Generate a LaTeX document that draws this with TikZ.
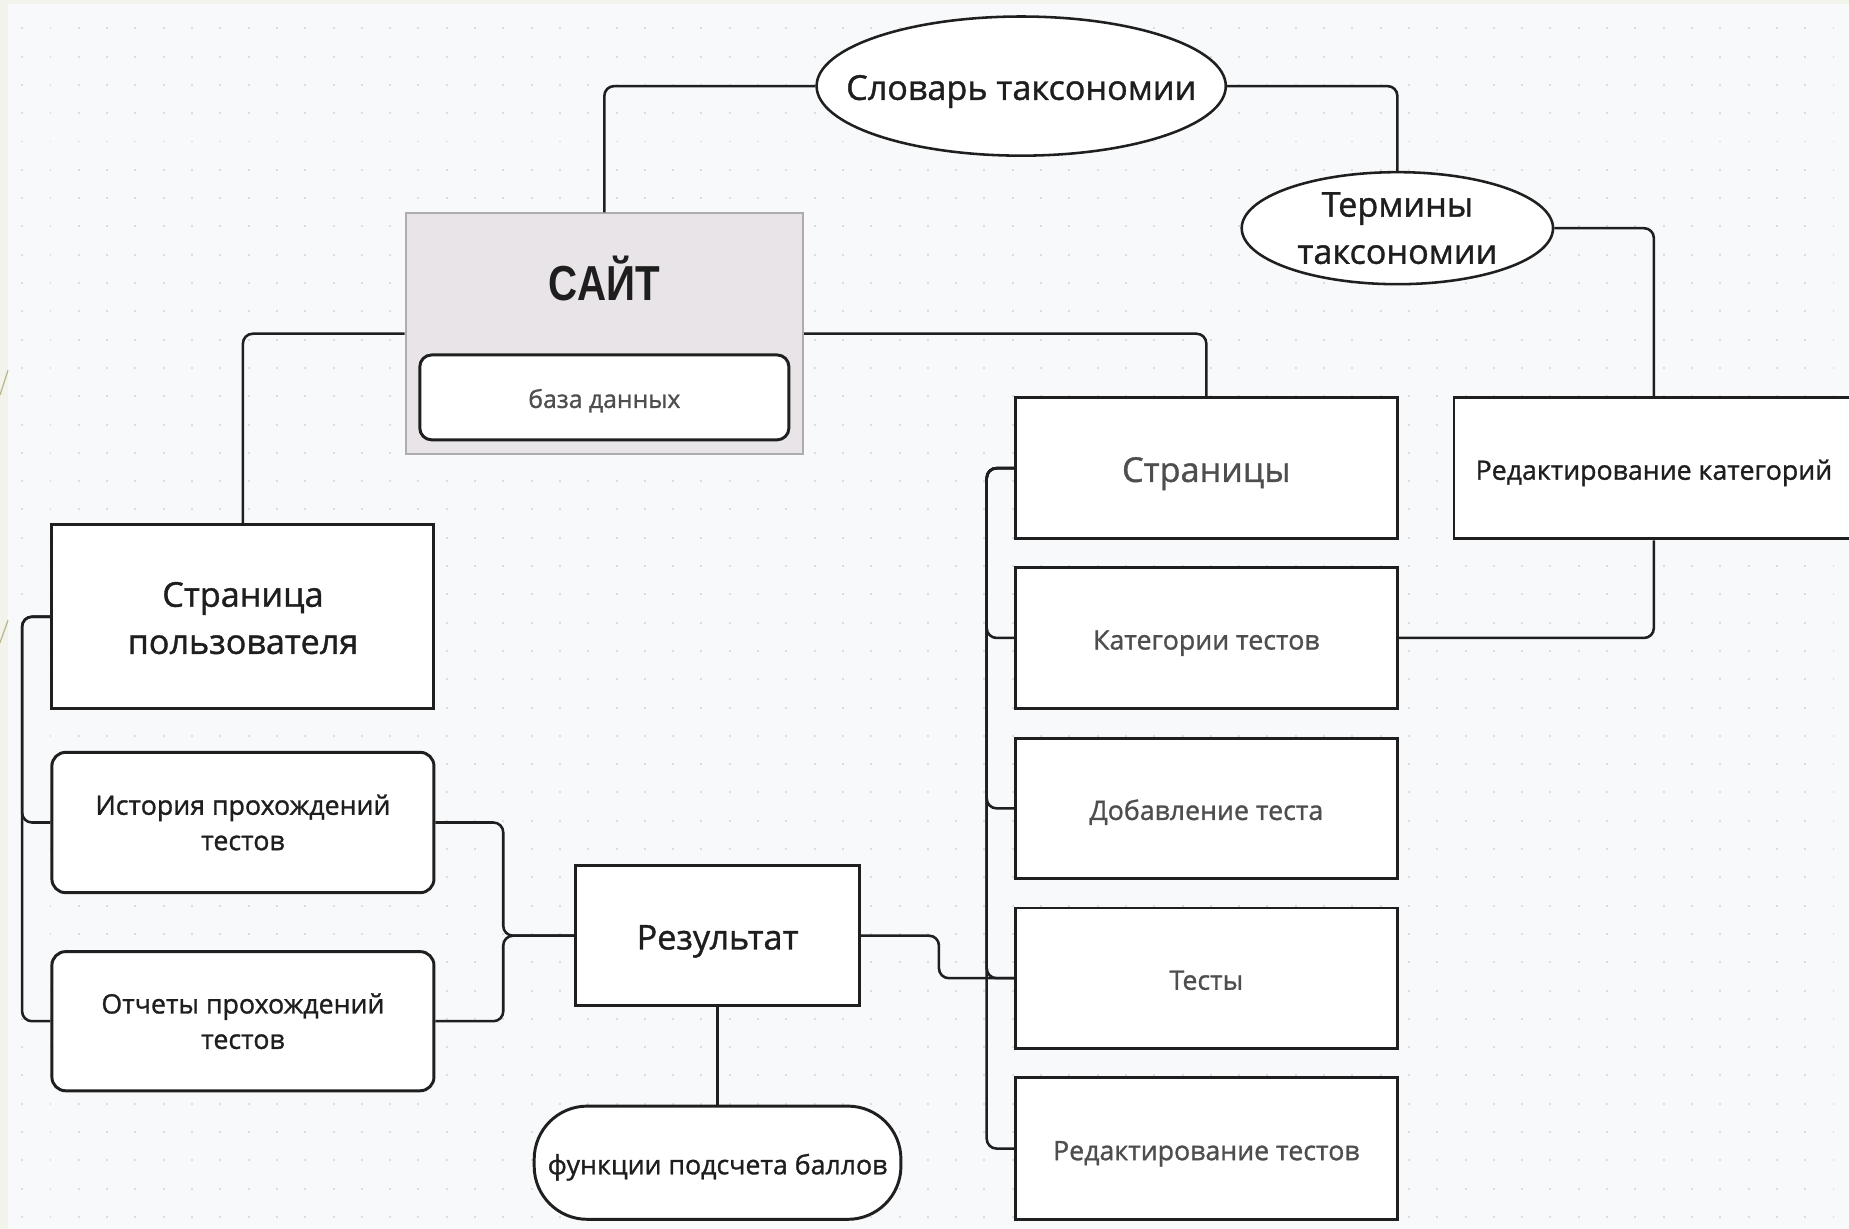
\documentclass[tikz,border=0pt]{standalone}
\usepackage{fontspec}
\setmainfont{Open Sans}[FakeBold=1.1]
\newfontfamily\saitfont{Liberation Sans}[FakeStretch=0.82]
\usetikzlibrary{shapes.geometric}
\definecolor{bgc}{HTML}{F8F9FB}
\definecolor{stripc}{HTML}{F2F3EA}
\definecolor{olivec}{HTML}{B5B58A}
\definecolor{dotc}{HTML}{DCDDE2}
\definecolor{saitfill}{HTML}{E8E4E7}
\definecolor{saitborder}{HTML}{ADADAD}
\definecolor{darktxt}{HTML}{1E1E1E}
\definecolor{greytxt}{HTML}{4E4E4E}
\newcommand\bigtxt{\fontsize{17.4}{24}\selectfont}
\newcommand\smtxt{\fontsize{13.6}{18}\selectfont}
\begin{document}
\begin{tikzpicture}[x=0.6pt,y=-0.6pt,
  conn/.style={draw=black!88, line width=1.3pt, rounded corners=5pt},
  sqbox/.style={draw=black!88, fill=white, line width=1.5pt, rectangle, inner sep=0pt, align=center, text=darktxt},
  rbox/.style={sqbox, rounded corners=7pt},
  ell/.style={draw=black!88, fill=white, line width=1.3pt, ellipse, inner sep=0pt, align=center, text=darktxt, font=\bigtxt},
  w324/.style={minimum width=324*0.6pt},
  onebig/.style={text height=14pt, text depth=0pt},
  onesm/.style={text height=11.8pt, text depth=0pt},
]
\useasboundingbox (0,0) rectangle (1568,1042);
\fill[bgc] (0,0) rectangle (1568,1042);
\fill[stripc] (0,0) rectangle (6.8,1042);
\fill[stripc] (0,0) rectangle (1568,3.5);
\draw[olivec, line width=0.6pt] (6.8,314) -- (0,335);
\draw[olivec, line width=0.6pt] (6.8,526) -- (0,545);
\foreach \yy in {24,48,...,1040}
  \draw[dotc, line width=1pt, dash pattern=on 1pt off 13.4pt] (18,\yy) -- (1568,\yy);

% nodes
\node[ell, onebig, minimum width=347*0.6pt, minimum height=118*0.6pt] (slov) at (866,73) {\makebox[0pt]{Словарь таксономии}};
\node[ell, minimum width=264*0.6pt, minimum height=95*0.6pt] (term) at (1185,193.5) {Термины\\таксономии};
\node[draw=saitborder, fill=saitfill, line width=1pt, inner sep=0pt, minimum width=337*0.6pt, minimum height=204*0.6pt] (sait) at (512.5,283) {};
\node[text=darktxt, font=\saitfont\bfseries\fontsize{25}{30}\selectfont] (saitt) at (512.5,236) {САЙТ};
\node[rbox, rounded corners=6pt, text height=10.7pt, text depth=0pt, minimum width=313*0.6pt, minimum height=72*0.6pt, text=greytxt, font=\fontsize{12.6}{16}\selectfont] (db) at (512.5,337) {база данных};

\node[sqbox, w324, minimum height=156*0.6pt, font=\bigtxt] (sp) at (206,523) {\rule{0pt}{3pt}\\[-13pt]Страница\\пользователя};
\node[rbox, w324, minimum height=119*0.6pt, font=\smtxt] (ist) at (206,697.5) {История прохождений\\тестов};
\node[rbox, w324, minimum height=118*0.6pt, font=\smtxt] (otch) at (206,866) {Отчеты прохождений\\тестов};
\node[sqbox, onebig, minimum width=241*0.6pt, minimum height=119*0.6pt, font=\bigtxt] (res) at (608.5,793.5) {Результат};
\node[rbox, onesm, rounded corners=27pt, minimum width=311*0.6pt, minimum height=96*0.6pt, font=\smtxt] (func) at (608.5,986) {функции подсчета баллов};

\node[sqbox, onebig, w324, minimum height=120*0.6pt, font=\bigtxt, text=greytxt] (str) at (1023,397) {Страницы};
\node[sqbox, onesm, w324, minimum height=120*0.6pt, font=\smtxt, text=greytxt] (kat) at (1023,541) {Категории тестов};
\node[sqbox, onesm, w324, minimum height=119*0.6pt, font=\smtxt, text=greytxt] (dob) at (1023,685.5) {Добавление теста};
\node[sqbox, onesm, w324, minimum height=119*0.6pt, font=\smtxt, text=greytxt] (tes) at (1023,829.5) {Тесты};
\node[sqbox, onesm, w324, minimum height=120*0.6pt, font=\smtxt, text=greytxt] (redt) at (1023,974) {Редактирование тестов};
\node[sqbox, onesm, minimum width=339*0.6pt, minimum height=120*0.6pt, font=\smtxt] (redk) at (1402.5,397) {Редактирование категорий};

% connectors
\draw[conn] (sait.north) |- (slov.west);
\draw[conn] (slov.east) -| (term.north);
\draw[conn] (term.east) -| (redk.north);
\draw[conn] (redk.south) |- (kat.east);
\draw[conn] (sait.west) -| (sp.north);
\draw[conn] (sait.east) -| (str.north);
\draw[conn] (sp.west) -- ++(-24,0) |- (ist.west);
\draw[conn] (sp.west) -- ++(-24,0) |- (otch.west);
\draw[conn] (res.west) -- ++(-60,0) |- (ist.east);
\draw[conn] (res.west) -- ++(-60,0) |- (otch.east);
\draw[conn] (res.east) -- ++(66,0) |- (tes.west);
\draw[conn] (res.south) -- (func.north);
\foreach \c in {kat,dob,tes,redt}
  \draw[conn] (str.west) -- ++(-23,0) |- (\c.west);
\end{tikzpicture}
\end{document}
